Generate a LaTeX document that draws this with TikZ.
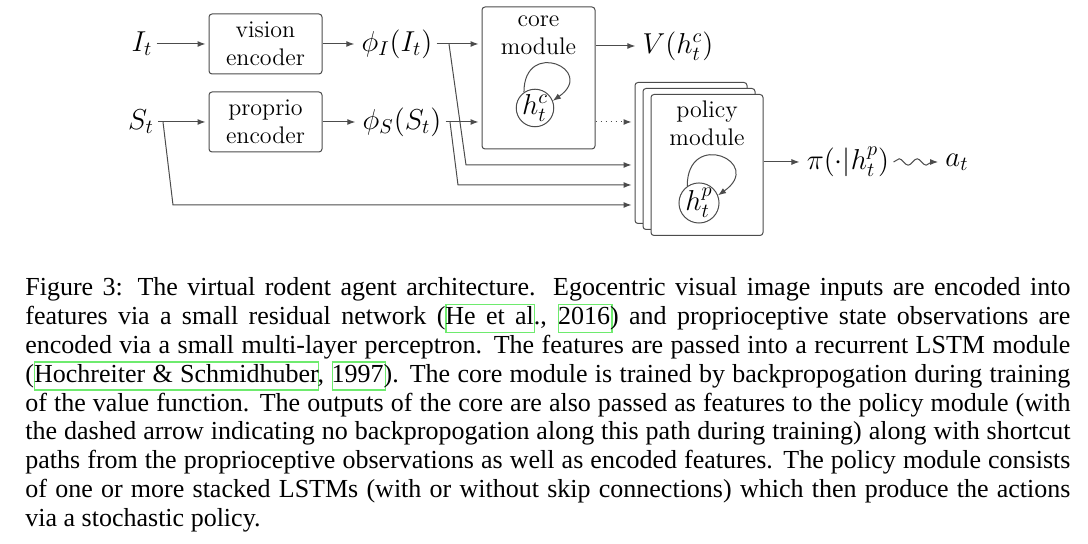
\documentclass[tikz,border=0pt]{standalone}
\usepackage{amsmath,amssymb}
\usepackage{fontspec}
\usepackage{tikz}
\usetikzlibrary{arrows.meta,positioning,decorations.pathmorphing}
\newfontfamily\capfont{Liberation Serif}
\definecolor{linkgreen}{RGB}{110,235,110}
\newcommand{\linkbox}[1]{\rlap{\color{linkgreen}\setlength{\fboxsep}{0pt}\setlength{\fboxrule}{0.6pt}\fbox{\phantom{#1}\rule[-3.6pt]{0pt}{13.4pt}}}#1}

\begin{document}
\begin{tikzpicture}[x=0.5pt, y=0.5pt,
    box/.style={draw=black!70, rounded corners=1.5pt, line width=0.5pt, minimum width=56.5pt, minimum height=30pt, align=center, font=\large, inner sep=0pt},
    big/.style={box, minimum width=56pt, minimum height=70.5pt, fill=white},
    lbl/.style={font=\Large, inner sep=2pt},
    hid/.style={draw=black!70, circle, line width=0.5pt, minimum size=17.5pt, inner sep=0pt, font=\Large},
    arr/.style={-{Latex[length=4pt,width=3pt]}, draw=black!70, line width=0.5pt, shorten >=1.5pt},
    selfloop/.style={arr, shorten >=0pt, looseness=4.6}
]
\useasboundingbox (0,0) rectangle (1088,544);

% inputs and encoders
\node[lbl] (It) at (142,500) {$I_t$};
\node[box] (vis) at (265.5,500) {vision\\encoder};
\node[lbl] (phiI) at (397,500) {$\phi_I(I_t)$};
\node[lbl] (St) at (141,422) {$S_t$};
\node[box] (prop) at (265.5,422) {proprio\\encoder};
\node[lbl] (phiS) at (402,422) {$\phi_S(S_t)$};

% core module
\node[box, minimum height=71pt] (core) at (538.5,466) {};
\node[font=\large, align=center, inner sep=0pt, below=4.5pt of core.north] (coretxt) {core\\module};
\node[hid] (hc) at (535,436) {$h_t^c$};
\draw[selfloop] (hc.125) to[out=90,in=35] (hc.22);
\node[lbl] (V) at (678,498) {$V(h_t^c)$};

% policy module (stacked)
\node[big] (pol3) at (691,391) {};
\node[big] (pol2) at (699,385) {};
\node[big] (pol) at (707,379) {};
\node[font=\large, align=center, inner sep=0pt, below=3pt of pol.north] (poltxt) {policy\\module};
\node[hid] (hp) at (699,341) {$h_t^p$};
\draw[selfloop] (hp.125) to[out=90,in=35] (hp.22);
\node[lbl] (pi) at (848,382) {$\pi(\cdot|h_t^p)$};
\node[lbl] (act) at (957,382) {$a_t$};

% branch points
\coordinate (jI) at (449,500);
\coordinate (bI) at (466,379);
\coordinate (jS) at (450,422);
\coordinate (bS) at (458,359);
\coordinate (jSt) at (163,422);
\coordinate (bSt) at (173,339);

\draw[arr] (It) -- (vis);
\draw[arr] (vis) -- (phiI);
\draw[arr] (phiI.east) -- (phiI.east -| core.west);
\draw[arr] (St) -- (prop);
\draw[arr] (prop) -- (phiS);
\draw[arr] (phiS.east) -- (phiS.east -| core.west);
\draw[arr] (core.east |- V.west) -- (V.west);
\draw[arr, dotted] (core.east |- phiS) -- (phiS -| pol3.west);
\draw[arr] (jI) -- (bI) -- (bI -| pol3.west);
\draw[arr] (jS) -- (bS) -- (bS -| pol3.west);
\draw[arr] (jSt) -- (bSt) -- (bSt -| pol3.west);
\draw[arr] (pol.east |- pi.west) -- (pi.west);
\draw[arr, decorate, decoration={snake, amplitude=1.6pt, segment length=9pt, post length=4pt}] (pi.east) -- (act.west);

% caption
\node[anchor=north west, inner sep=0pt, text width=522.5pt, align=justify, font=\capfont\fontsize{13}{14.45}\selectfont] (cap) at (25,267) {\noindent Figure 3: The virtual rodent agent architecture. Egocentric visual image inputs are encoded into\linebreak
features via a small residual network (\linkbox{He et al.}, \linkbox{2016}) and proprioceptive state observations are\linebreak
encoded via a small multi-layer perceptron. The features are passed into a recurrent LSTM module\linebreak
(\linkbox{Hochreiter \& Schmidhuber}, \linkbox{1997}). The core module is trained by backpropogation during training\linebreak
of the value function. The outputs of the core are also passed as features to the policy module (with\linebreak
the dashed arrow indicating no backpropogation along this path during training) along with shortcut\linebreak
paths from the proprioceptive observations as well as encoded features. The policy module consists\linebreak
of one or more stacked LSTMs (with or without skip connections) which then produce the actions\linebreak
via a stochastic policy.};
\end{tikzpicture}
\end{document}
